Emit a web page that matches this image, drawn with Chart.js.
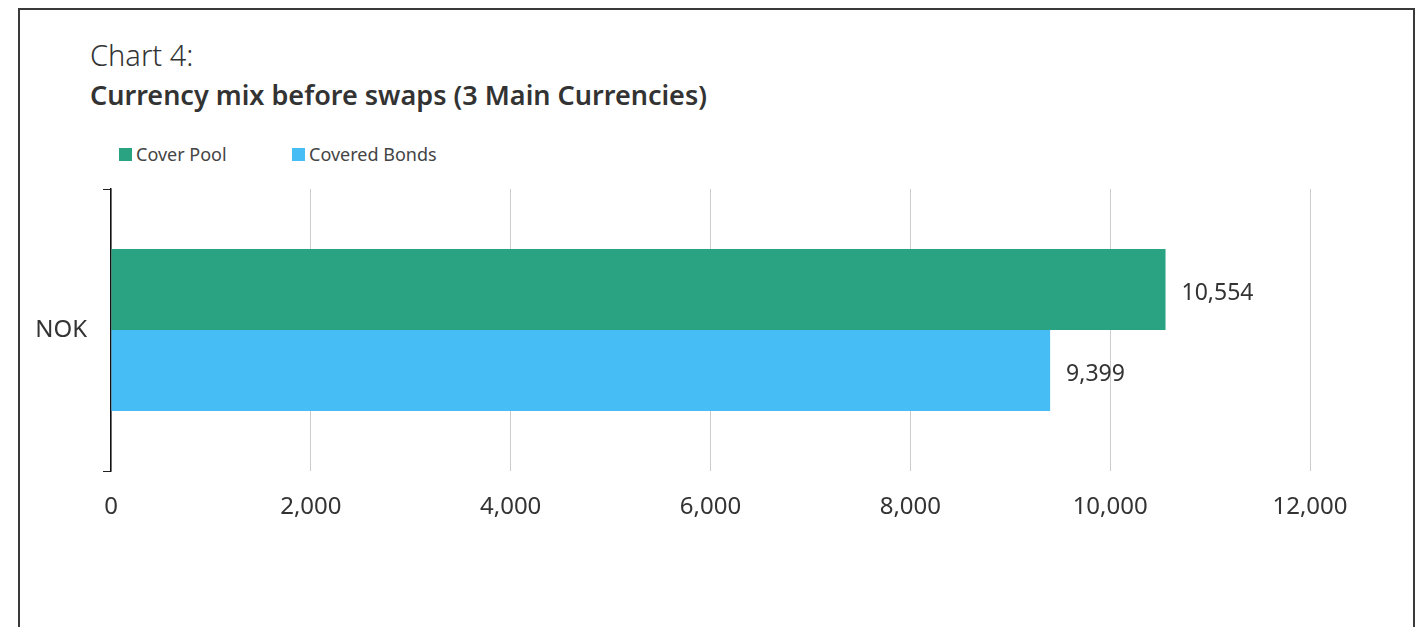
<!DOCTYPE html>
<html>
<head>
<meta charset="utf-8">
<script src="https://cdn.jsdelivr.net/npm/chart.js@4"></script>
<style>
  html, body { margin: 0; padding: 0; background: #fff; }
  body { width: 1426px; height: 627px; position: relative; overflow: hidden; font-family: "Noto Sans", sans-serif; color: #333; }
  .frame { position: absolute; left: 18px; top: 8px; width: 1397px; height: 700px; border: 2px solid #3a3a3a; box-sizing: border-box; }
  .title1 { position: absolute; left: 90px; top: 37px; font-size: 29px; font-weight: 300; color: #333; line-height: 36px; }
  .title2 { position: absolute; left: 90px; top: 77px; font-size: 27px; font-weight: 600; color: #333; line-height: 36px; }
  .legend { position: absolute; top: 142px; font-size: 18px; color: #444; line-height: 24px; display: flex; align-items: center; }
  .legend span.box { display: inline-block; width: 13px; height: 13px; margin-right: 4px; }
  #wrap { position: absolute; left: 0; top: 0; width: 1426px; height: 627px; }
</style>
</head>
<body>
<div class="frame"></div>
<div class="title1">Chart 4:</div>
<div class="title2">Currency mix before swaps (3 Main Currencies)</div>
<div id="legend"></div>
<div id="wrap"><canvas id="chart"></canvas></div>
<script>
// Dati del grafico
const categories = ['NOK'];
const seriesNames = ['Cover Pool', 'Covered Bonds'];
const coverPool = [10554];
const coveredBonds = [9399];
const xTicks = [0, 2000, 4000, 6000, 8000, 10000, 12000];

const colors = ['rgb(42, 163, 131)', 'rgb(70, 189, 245)'];

// Legenda in HTML
const legendX = [119, 292];
const legendEl = document.getElementById('legend');
seriesNames.forEach((name, i) => {
  const item = document.createElement('div');
  item.className = 'legend';
  item.style.left = legendX[i] + 'px';
  item.innerHTML = '<span class="box" style="background:' + colors[i] + '"></span>' + name;
  legendEl.appendChild(item);
});

// Etichette dei valori a destra delle barre
const valueLabels = {
  id: 'valueLabels',
  afterDatasetsDraw(chart) {
    const ctx = chart.ctx;
    ctx.save();
    ctx.font = '23px "Noto Sans"';
    ctx.fillStyle = '#333';
    ctx.textAlign = 'left';
    ctx.textBaseline = 'middle';
    chart.data.datasets.forEach((ds, i) => {
      chart.getDatasetMeta(i).data.forEach((bar, j) => {
        ctx.fillText(ds.data[j].toLocaleString('en-US'), bar.x + 16, bar.y + 4);
      });
    });
    ctx.restore();
  }
};

new Chart(document.getElementById('chart'), {
  type: 'bar',
  data: {
    labels: categories,
    datasets: [
      { label: seriesNames[0], data: coverPool, backgroundColor: colors[0] },
      { label: seriesNames[1], data: coveredBonds, backgroundColor: colors[1] },
    ],
  },
  options: {
    indexAxis: 'y',
    responsive: true,
    maintainAspectRatio: false,
    animation: false,
    locale: 'en-US',
    layout: { padding: { left: 0, top: 189, right: 116, bottom: 0 } },
    datasets: { bar: { categoryPercentage: 0.574, barPercentage: 1 } },
    scales: {
      x: {
        min: 0,
        max: 12000,
        afterBuildTicks: (s) => { s.ticks = xTicks.map((v) => ({ value: v })); },
        afterFit: (s) => { s.height = 156; },
        grid: { color: '#cccccc', lineWidth: 1, drawTicks: false },
        border: { display: false },
        ticks: { color: '#333', font: { family: 'Noto Sans', size: 24 }, padding: 22 },
      },
      y: {
        afterFit: (s) => { s.width = 111; },
        grid: { offset: true, drawOnChartArea: false, drawTicks: true, tickLength: 8, color: '#222' },
        border: { display: true, color: '#111', width: 1.5 },
        ticks: { color: '#333', font: { family: 'Noto Sans', size: 24 }, padding: 16 },
      },
    },
    plugins: {
      legend: { display: false },
      tooltip: { enabled: false },
    },
  },
  plugins: [valueLabels],
});
</script>
</body>
</html>
